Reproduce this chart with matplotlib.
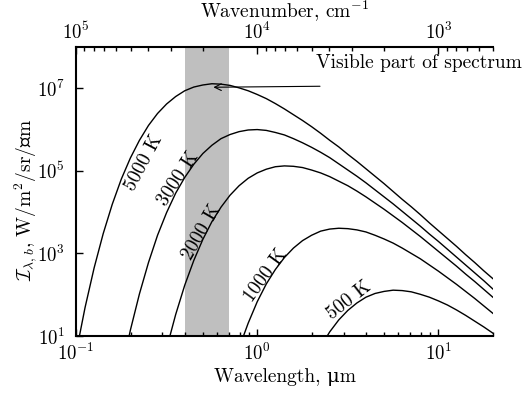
import numpy as np
import matplotlib
matplotlib.use("Agg")
import matplotlib.pyplot as plt
from matplotlib.ticker import NullLocator

plt.rcParams['font.family'] = ['cmr10', 'DejaVu Serif']
plt.rcParams['mathtext.fontset'] = 'cm'
plt.rcParams['axes.formatter.use_mathtext'] = True
plt.rcParams['axes.unicode_minus'] = False

# wavelength grid, micrometres
wavelength = [0.1, 0.1122, 0.1259, 0.1413, 0.1585, 0.1778, 0.1995, 0.2239, 0.2512, 0.2818,
              0.3162, 0.3548, 0.3981, 0.4467, 0.5012, 0.5623, 0.6310, 0.7079, 0.7943, 0.8913,
              1.0, 1.122, 1.2589, 1.4125, 1.5849, 1.7783, 1.9953, 2.2387, 2.5119, 2.8184,
              3.1623, 3.5481, 3.9811, 4.4668, 5.0119, 5.6234, 6.3096, 7.0795, 7.9433, 8.9125,
              10.0, 11.2202, 12.5893, 14.1254, 15.8489, 17.7828, 19.9526]

# log10 of spectral intensity (W/m^2/sr/um); each series starts at the given grid index
log_I_5000 = [0.58, 1.69, 2.65, 3.48, 4.19, 4.80, 5.31, 5.74, 6.10, 6.39, 6.62, 6.80, 6.94,
              7.03, 7.08, 7.11, 7.10, 7.07, 7.01, 6.94, 6.85, 6.75, 6.63, 6.50, 6.36, 6.22,
              6.07, 5.91, 5.74, 5.58, 5.40, 5.23, 5.05, 4.87, 4.69, 4.50, 4.31, 4.13, 3.94,
              3.74, 3.55, 3.36, 3.17, 2.97, 2.78, 2.58, 2.39]
log_I_3000 = [0.11, 1.14, 2.02, 2.78, 3.44, 3.99, 4.46, 4.84, 5.16, 5.42, 5.62, 5.78, 5.88,
              5.95, 5.99, 6.00, 5.98, 5.93, 5.87, 5.78, 5.68, 5.57, 5.45, 5.32, 5.17, 5.02,
              4.87, 4.71, 4.54, 4.37, 4.20, 4.02, 3.84, 3.66, 3.47, 3.29, 3.10, 2.91, 2.72,
              2.53, 2.34, 2.14]
log_I_2000 = [0.70, 1.52, 2.23, 2.83, 3.34, 3.77, 4.12, 4.41, 4.64, 4.82, 4.95, 5.04, 5.10,
              5.12, 5.11, 5.08, 5.02, 4.95, 4.86, 4.75, 4.64, 4.51, 4.37, 4.22, 4.07, 3.91,
              3.75, 3.58, 3.41, 3.23, 3.05, 2.87, 2.69, 2.50, 2.32, 2.13, 1.94]
log_I_1000 = [-0.00, 0.71, 1.31, 1.83, 2.26, 2.61, 2.90, 3.13, 3.31, 3.44, 3.54, 3.59, 3.61,
              3.60, 3.57, 3.52, 3.44, 3.35, 3.25, 3.13, 3.00, 2.87, 2.72, 2.57, 2.41, 2.25,
              2.08, 1.91, 1.73, 1.55]
log_I_500 = [0.31, 0.74, 1.10, 1.39, 1.62, 1.80, 1.94, 2.03, 2.08, 2.11, 2.10, 2.07, 2.01,
             1.94, 1.85, 1.75, 1.63, 1.50, 1.36, 1.22, 1.07]

series = [("5000 K", log_I_5000, 0), ("3000 K", log_I_3000, 5), ("2000 K", log_I_2000, 10),
          ("1000 K", log_I_1000, 17), ("500 K", log_I_500, 26)]

# label positions (wavelength, intensity) and rotation
label_pos = {"5000 K": (0.236, 1.6e5, 62), "3000 K": (0.368, 6.4e4, 57),
             "2000 K": (0.492, 3.2e3, 60), "1000 K": (1.12, 295, 54),
             "500 K": (3.2, 74, 38)}

visible_band = (0.4, 0.7)

FS = 14
TFS = 13.5

fig = plt.figure(figsize=(5.24, 3.96), dpi=100)
ax = fig.add_axes([76/524, 1-336/396, (493-76)/524, (336-47)/396])

ax.axvspan(*visible_band, color='#bfbfbf', lw=0, zorder=0)

for name, logv, start in series:
    x = wavelength[start:start+len(logv)]
    y = 10**np.array(logv)
    ax.plot(x, y, color='black', lw=1.0)
    lx, ly, rot = label_pos[name]
    ax.text(lx, ly, name, rotation=rot, ha='center', va='center', fontsize=FS,
            rotation_mode='anchor')

ax.set_xscale('log')
ax.set_yscale('log')
ax.set_xlim(0.1, 20)
ax.set_ylim(10, 1e8)
ax.set_yticks([1e1, 1e3, 1e5, 1e7])
ax.yaxis.set_minor_locator(NullLocator())

ax.spines['right'].set_visible(False)
ax.spines['top'].set_visible(False)
for s in ['left', 'bottom']:
    ax.spines[s].set_linewidth(1.5)
ax.tick_params(which='both', direction='in', labelsize=TFS, width=1.0)
ax.tick_params(which='major', length=5)
ax.tick_params(which='minor', length=3)
ax.tick_params(axis='y', right=False, pad=8)
ax.tick_params(axis='x', pad=5)

ax.set_xlabel('Wavelength, μm', fontsize=FS, labelpad=3)
ax.set_ylabel(r'$\mathcal{I}_{\lambda,b}$, W/m$^2$/sr/μm', fontsize=FS)
ax.yaxis.set_label_coords(-0.088, 0.47)

sec = ax.secondary_xaxis('top', functions=(lambda w: 1e4/w, lambda w: 1e4/w))
sec.set_xticks([1e5, 1e4, 1e3])
sec.spines['top'].set_linewidth(1.5)
sec.tick_params(which='both', direction='in', labelsize=TFS, width=1.0, pad=3)
sec.tick_params(which='major', length=5)
sec.tick_params(which='minor', length=3)
sec.set_xlabel(r'Wavenumber, cm$^{-1}$', fontsize=FS, labelpad=2.5)

ax.annotate('', xy=(0.573, 1.06e7), xytext=(2.22, 1.12e7),
            arrowprops=dict(arrowstyle='->', lw=0.8, shrinkA=0, shrinkB=0,
                            mutation_scale=12))
fig.text(522/524, 1-63/396, 'Visible part of spectrum', ha='right', va='center', fontsize=FS)

fig.savefig('out.png', dpi=100)
